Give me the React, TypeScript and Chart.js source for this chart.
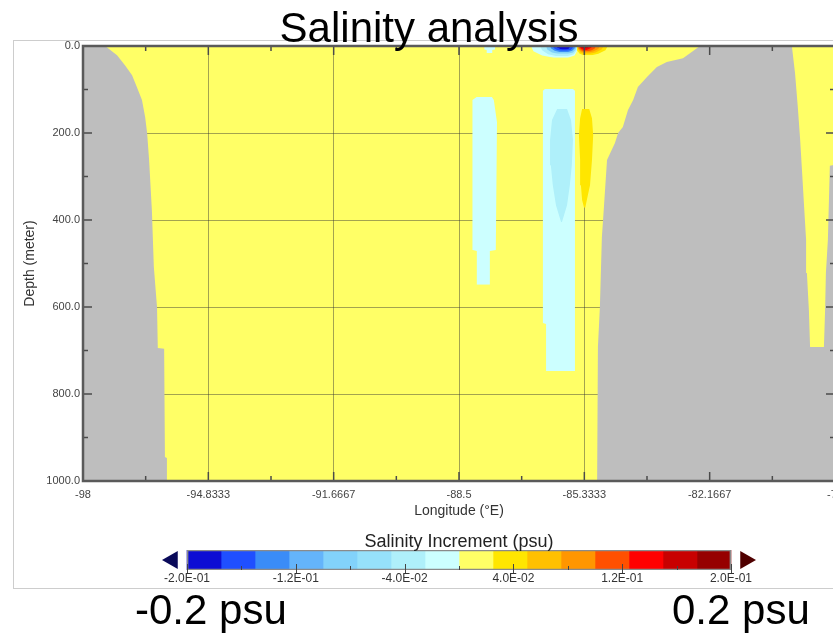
import { useEffect, useRef } from 'react';
import { Chart, registerables } from 'chart.js';
Chart.register(...registerables);

const FONT = "'Liberation Sans', Arial, sans-serif";

// ---------- axes ----------
const lonMin = -98;
const lonMax = -79;
const lonTicks = [-98, -94.8333, -91.6667, -88.5, -85.3333, -82.1667, -79];
const lonTickLabels = ['-98', '-94.8333', '-91.6667', '-88.5', '-85.3333', '-82.1667', '-79'];
const lonMinorTicks = [-96.4167, -93.25, -90.0833, -86.9167, -83.75, -80.5833];
const depthMin = 0;
const depthMax = 1000;
const depthTicks = [0, 200, 400, 600, 800, 1000];
const depthTickLabels = ['0.0', '200.0', '400.0', '600.0', '800.0', '1000.0'];
const depthMinorTicks = [100, 300, 500, 700, 900];

// ---------- colour scale ----------
const binEdges = [-0.2, -0.175, -0.15, -0.125, -0.1, -0.075, -0.05, -0.025, 0, 0.025, 0.05, 0.075, 0.1, 0.125, 0.15, 0.175, 0.2];
const binColors = ['#0d0dd4', '#1f4fff', '#3a8cf7', '#64b4fa', '#82d2fa', '#96e1fa', '#aff0fa', '#ccffff', '#ffff66', '#ffe600', '#ffc000', '#ff9600', '#ff5000', '#ff0000', '#c80000', '#960000'];
const underColor = '#0a0a5a';
const overColor = '#500000';
const landColor = '#bebebe';
const backgroundBin = 8;
const cbTicks = [-0.2, -0.12, -0.04, 0.04, 0.12, 0.2];
const cbTickLabels = ['-2.0E-01', '-1.2E-01', '-4.0E-02', '4.0E-02', '1.2E-01', '2.0E-01'];
const cbMinorTicks = [-0.16, -0.08, 0, 0.08, 0.16];

// ---------- land ----------
const westCoastDepth = [0, 21, 44, 67, 94, 124, 163, 200, 262, 377, 508, 600, 694, 696, 945, 947, 1000];
const westCoastLon = [-97.44, -97.14, -96.94, -96.76, -96.64, -96.51, -96.43, -96.38, -96.33, -96.26, -96.21, -96.13, -96.11, -95.95, -95.93, -95.88, -95.88];
const eastCoastDepth = [0, 28, 37, 48, 71, 94, 124, 147, 186, 200, 223, 262, 400, 439, 600, 692, 952, 1000];
const eastCoastLon = [-82.41, -82.84, -83.25, -83.5, -83.75, -83.98, -84.1, -84.23, -84.36, -84.48, -84.56, -84.76, -84.86, -84.89, -84.94, -84.99, -85.01, -85.01];
// narrow ocean strip east of the eastern land
const stripWestDepth = [0, 62, 140, 216, 292, 370, 446, 522, 607, 692];
const stripWestLon = [-80.09, -80.01, -79.94, -79.88, -79.83, -79.78, -79.73, -79.71, -79.66, -79.63];
const stripEastDepth = [0, 273, 275, 446, 522, 607, 692];
const stripEastLon = [-79, -79, -79.13, -79.18, -79.23, -79.25, -79.28];

// ---------- increment patches ----------
const patchADepth = [117, 124, 175, 469, 471, 549];
const patchAWest = [-88.05, -88.15, -88.17, -88.15, -88.05, -88.05];
const patchAEast = [-87.67, -87.62, -87.54, -87.57, -87.72, -87.72];
const patchABin = 7;

const patchBDepth = [99, 103, 637, 639, 747];
const patchBWest = [-86.33, -86.38, -86.38, -86.3, -86.3];
const patchBEast = [-85.62, -85.57, -85.57, -85.57, -85.57];
const patchBBin = 7;

const innerDepth = [145, 170, 216, 274, 320, 366, 405];
const innerWest = [-86.02, -86.15, -86.2, -86.18, -86.13, -86.05, -85.92];
const innerEast = [-85.77, -85.67, -85.62, -85.65, -85.7, -85.77, -85.9];
const innerBin = 6;

const goldDepth = [145, 166, 205, 262, 320, 354, 372];
const goldWest = [-85.39, -85.44, -85.47, -85.44, -85.42, -85.39, -85.34];
const goldEast = [-85.21, -85.14, -85.11, -85.14, -85.19, -85.27, -85.31];
const goldBin = 9;

const blipDepth = [0, 8, 9, 16];
const blipWest = [-87.86, -87.86, -87.8, -87.8];
const blipEast = [-87.59, -87.59, -87.66, -87.66];
const blipBin = 7;

// surface blobs, outer layer first
const blueBlobBins = [7, 6, 4, 2, 1, 0];
const blueBlobDepth = [[0, 12, 22, 27], [0, 10, 19, 23], [0, 8, 15, 18], [0, 6, 11, 14], [0, 5, 9, 11], [0, 4, 7, 8]];
const blueBlobWest = [[-86.68, -86.62, -86.4, -86.1], [-86.45, -86.4, -86.25, -86.05], [-86.3, -86.27, -86.15, -86.0], [-86.2, -86.17, -86.08, -85.95], [-86.13, -86.1, -86.02, -85.92], [-86.02, -86.0, -85.94, -85.88]];
const blueBlobEast = [[-85.52, -85.52, -85.58, -85.75], [-85.52, -85.53, -85.6, -85.75], [-85.54, -85.55, -85.62, -85.75], [-85.57, -85.58, -85.64, -85.75], [-85.62, -85.63, -85.68, -85.78], [-85.7, -85.71, -85.74, -85.8]];

const redBlobBins = [9, 10, 11, 12, 13, 14, 15];
const redBlobDepth = [[0, 10, 18, 21], [0, 8, 15, 18], [0, 7, 12, 15], [0, 6, 10, 12], [0, 4, 7, 9], [0, 3, 5, 6], [0, 2, 3, 4]];
const redBlobWest = [[-85.52, -85.52, -85.45, -85.35], [-85.49, -85.49, -85.43, -85.35], [-85.49, -85.48, -85.42, -85.35], [-85.47, -85.46, -85.41, -85.35], [-85.44, -85.44, -85.4, -85.35], [-85.42, -85.42, -85.39, -85.35], [-85.39, -85.38, -85.36, -85.34]];
const redBlobEast = [[-84.74, -84.8, -84.98, -85.15], [-84.84, -84.9, -85.05, -85.18], [-84.94, -84.98, -85.1, -85.22], [-85.04, -85.07, -85.15, -85.25], [-85.14, -85.16, -85.22, -85.28], [-85.22, -85.23, -85.27, -85.3], [-85.27, -85.28, -85.3, -85.32]];

// arrow placement beyond the colour bar ends (in data units)
const arrowGap = 0.0107;

function pts(lon: number[], depth: number[]) {
  return depth.map((d, i) => ({ x: lon[i], y: d }));
}

function buildMainDatasets() {
  const ds: any[] = [];
  const edge = (label: string, lon: number[], depth: number[], fill: any, color: string) => {
    ds.push({
      type: 'line',
      label,
      data: pts(lon, depth),
      borderColor: 'rgba(0,0,0,0)',
      borderWidth: 0,
      pointRadius: 0,
      pointHoverRadius: 0,
      tension: 0,
      fill,
      backgroundColor: color,
    });
  };
  const band = (label: string, wd: number[], wl: number[], ed: number[], el: number[], color: string) => {
    edge(label + ' west', wl, wd, false, 'rgba(0,0,0,0)');
    edge(label + ' east', el, ed, '-1', color);
  };
  // bottom layer first
  edge('West land', westCoastLon, westCoastDepth, { value: lonMin }, landColor);
  edge('East land', eastCoastLon, eastCoastDepth, { value: lonMax }, landColor);
  band('East strip', stripWestDepth, stripWestLon, stripEastDepth, stripEastLon, binColors[backgroundBin]);
  band('Patch A', patchADepth, patchAWest, patchADepth, patchAEast, binColors[patchABin]);
  band('Patch B', patchBDepth, patchBWest, patchBDepth, patchBEast, binColors[patchBBin]);
  band('Inner', innerDepth, innerWest, innerDepth, innerEast, binColors[innerBin]);
  band('Gold', goldDepth, goldWest, goldDepth, goldEast, binColors[goldBin]);
  band('Blip', blipDepth, blipWest, blipDepth, blipEast, binColors[blipBin]);
  blueBlobBins.forEach((b, k) => band('Blue ' + k, blueBlobDepth[k], blueBlobWest[k], blueBlobDepth[k], blueBlobEast[k], binColors[b]));
  redBlobBins.forEach((b, k) => band('Red ' + k, redBlobDepth[k], redBlobWest[k], redBlobDepth[k], redBlobEast[k], binColors[b]));
  const n = ds.length;
  ds.forEach((d, i) => { d.order = n - i; });
  return ds;
}

const bgPlugin = {
  id: 'plotBackground',
  beforeDraw(chart: any) {
    const { ctx, chartArea: a } = chart;
    ctx.save();
    ctx.fillStyle = binColors[backgroundBin];
    ctx.fillRect(a.left, a.top, a.right - a.left, a.bottom - a.top);
    ctx.restore();
  },
};

const framePlugin = {
  id: 'plotFrame',
  afterDraw(chart: any) {
    const { ctx, chartArea: a, scales } = chart;
    const xs = scales.x;
    const ys = scales.y;
    ctx.save();
    ctx.strokeStyle = '#4a4a4a';
    ctx.lineWidth = 1.5;
    const mark = (x1: number, y1: number, x2: number, y2: number) => {
      ctx.beginPath();
      ctx.moveTo(x1, y1);
      ctx.lineTo(x2, y2);
      ctx.stroke();
    };
    const xs2: [number[], number][] = [[lonTicks, 9], [lonMinorTicks, 5]];
    for (const [vals, len] of xs2) {
      for (const v of vals) {
        const px = xs.getPixelForValue(v);
        mark(px, a.bottom, px, a.bottom - len);
        mark(px, a.top, px, a.top + len);
      }
    }
    const ys2: [number[], number][] = [[depthTicks, 9], [depthMinorTicks, 5]];
    for (const [vals, len] of ys2) {
      for (const v of vals) {
        const py = ys.getPixelForValue(v);
        mark(a.left, py, a.left + len, py);
        mark(a.right, py, a.right - len, py);
      }
    }
    ctx.lineWidth = 2.5;
    ctx.strokeStyle = '#5a5a5a';
    ctx.strokeRect(a.left, a.top, a.right - a.left, a.bottom - a.top);
    ctx.restore();
  },
};

const cbTickPlugin = {
  id: 'cbTicks',
  afterDraw(chart: any) {
    const { ctx, chartArea: a, scales } = chart;
    const xs = scales.x;
    ctx.save();
    ctx.strokeStyle = '#444';
    ctx.lineWidth = 1;
    for (const v of cbTicks) {
      const px = Math.round(xs.getPixelForValue(v)) + 0.5;
      ctx.beginPath();
      ctx.moveTo(px, a.bottom + 3);
      ctx.lineTo(px, a.bottom - 6);
      ctx.stroke();
    }
    for (const v of cbMinorTicks) {
      const px = Math.round(xs.getPixelForValue(v)) + 0.5;
      ctx.beginPath();
      ctx.moveTo(px, a.bottom);
      ctx.lineTo(px, a.bottom - 4);
      ctx.stroke();
    }
    ctx.restore();
  },
};

export default function App() {
  const mainRef = useRef<HTMLCanvasElement>(null);
  const cbRef = useRef<HTMLCanvasElement>(null);

  useEffect(() => {
    Chart.defaults.font.family = FONT;
    const gridColor = 'rgba(50,50,50,0.45)';
    const main = new Chart(mainRef.current as HTMLCanvasElement, {
      type: 'line',
      data: { datasets: buildMainDatasets() },
      options: {
        responsive: false,
        animation: false,
        events: [],
        indexAxis: 'y',
        layout: { padding: { left: 13, top: 46, right: 25, bottom: 4 } },
        plugins: { legend: { display: false }, tooltip: { enabled: false }, title: { display: false } },
        scales: {
          x: {
            type: 'linear',
            position: 'bottom',
            min: lonMin,
            max: lonMax,
            z: 1,
            afterBuildTicks: (s: any) => { s.ticks = lonTicks.map((v) => ({ value: v })); },
            afterFit: (s: any) => { s.height = 45; },
            ticks: {
              autoSkip: false,
              maxRotation: 0,
              minRotation: 0,
              padding: 7,
              color: '#444',
              font: { family: FONT, size: 11 },
              callback: (_v: any, i: number) => lonTickLabels[i] ?? '',
            },
            grid: { color: gridColor, lineWidth: 1, drawTicks: false },
            border: { display: false },
            title: { display: true, text: 'Longitude (°E)', color: '#333', font: { family: FONT, size: 14 }, padding: { top: 0, bottom: 6 } },
          },
          y: {
            type: 'linear',
            position: 'left',
            reverse: true,
            min: depthMin,
            max: depthMax,
            z: 1,
            afterBuildTicks: (s: any) => { s.ticks = depthTicks.map((v) => ({ value: v })); },
            afterFit: (s: any) => { s.width = 70; },
            ticks: {
              autoSkip: false,
              padding: 3,
              color: '#444',
              font: { family: FONT, size: 11 },
              callback: (_v: any, i: number) => depthTickLabels[i] ?? '',
            },
            grid: { color: gridColor, lineWidth: 1, drawTicks: false },
            border: { display: false },
            title: { display: true, text: 'Depth (meter)', color: '#333', font: { family: FONT, size: 14 }, padding: { top: 9, bottom: 0 } },
          },
        },
      } as any,
      plugins: [bgPlugin, framePlugin],
    });

    const cbDatasets: any[] = [
      {
        type: 'bar',
        label: 'outline',
        data: [[binEdges[0], binEdges[binEdges.length - 1]]],
        backgroundColor: 'rgba(0,0,0,0)',
        borderColor: '#8a8a8a',
        borderWidth: 1,
        borderSkipped: false,
        grouped: false,
        barPercentage: 1,
        categoryPercentage: 1,
        order: 0,
      },
      {
        type: 'scatter',
        label: 'under',
        data: [{ x: binEdges[0] - arrowGap, y: 'cb' }],
        pointStyle: 'triangle',
        pointRotation: -90,
        pointRadius: 10.5,
        pointBorderWidth: 0,
        pointBackgroundColor: underColor,
        order: 1,
      },
      {
        type: 'scatter',
        label: 'over',
        data: [{ x: binEdges[binEdges.length - 1] + arrowGap, y: 'cb' }],
        pointStyle: 'triangle',
        pointRotation: 90,
        pointRadius: 10.5,
        pointBorderWidth: 0,
        pointBackgroundColor: overColor,
        order: 1,
      },
      ...binColors.map((c, i) => ({
        type: 'bar',
        label: 'bin ' + i,
        data: [[binEdges[i], binEdges[i + 1]]],
        backgroundColor: c,
        borderWidth: 0,
        grouped: false,
        barPercentage: 1,
        categoryPercentage: 1,
        order: 2,
      })),
    ];

    const cb = new Chart(cbRef.current as HTMLCanvasElement, {
      type: 'bar',
      data: { labels: ['cb'], datasets: cbDatasets },
      options: {
        responsive: false,
        animation: false,
        events: [],
        indexAxis: 'y',
        layout: { padding: { left: 11, top: 20, right: 33, bottom: 2 } },
        plugins: { legend: { display: false }, tooltip: { enabled: false } },
        scales: {
          x: {
            type: 'linear',
            min: -0.2265,
            max: 0.2265,
            afterBuildTicks: (s: any) => { s.ticks = cbTicks.map((v) => ({ value: v })); },
            afterFit: (s: any) => { s.height = 20; },
            ticks: {
              autoSkip: false,
              maxRotation: 0,
              padding: 1,
              color: '#333',
              font: { family: FONT, size: 12 },
              callback: (_v: any, i: number) => cbTickLabels[i] ?? '',
            },
            grid: { display: false, drawTicks: false },
            border: { display: false },
          },
          y: { type: 'category', display: false },
        },
      } as any,
      plugins: [cbTickPlugin],
    });

    return () => {
      main.destroy();
      cb.destroy();
    };
  }, []);

  const text = (s: any) => ({ position: 'absolute' as const, whiteSpace: 'nowrap' as const, lineHeight: '1', fontFamily: FONT, color: '#000', ...s });

  return (
    <div style={{ position: 'fixed', left: 0, top: 0, width: 833, height: 633, overflow: 'hidden', background: '#fff' }}>
      <div style={{ position: 'absolute', left: 13, top: 40, width: 840, height: 549, border: '1px solid #cdcdcd', boxSizing: 'border-box' }} />
      <canvas ref={mainRef} width={860} height={530} style={{ position: 'absolute', left: 0, top: 0, width: 860, height: 530 }} />
      <canvas ref={cbRef} width={660} height={62} style={{ position: 'absolute', left: 140, top: 530, width: 660, height: 62 }} />
      <div style={text({ left: 229, width: 400, top: 7, fontSize: 42, textAlign: 'center' })}>Salinity analysis</div>
      <div style={text({ left: 259, width: 400, top: 532, fontSize: 18, textAlign: 'center', color: '#222' })}>Salinity Increment (psu)</div>
      <div style={text({ left: 135, top: 589, fontSize: 42 })}>-0.2 psu</div>
      <div style={text({ left: 672, top: 589, fontSize: 42 })}>0.2 psu</div>
    </div>
  );
}
